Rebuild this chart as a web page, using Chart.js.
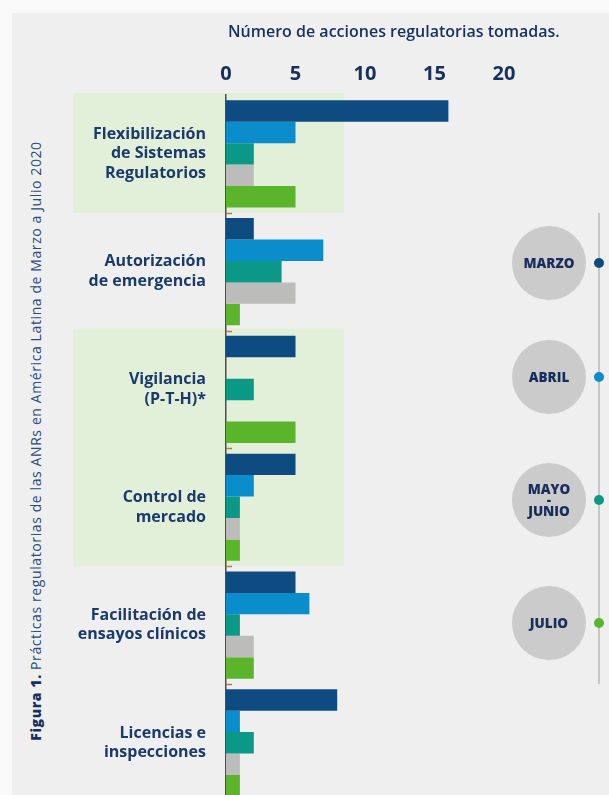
<!DOCTYPE html>
<html lang="es">
<head>
<meta charset="UTF-8" />
<title>Prácticas regulatorias</title>
<script src="https://cdn.jsdelivr.net/npm/chart.js"></script>
<style>
    html, body { margin: 0; padding: 0; }
    body {
        width: 609px;
        height: 795px;
        overflow: hidden;
        position: relative;
        background: #f9f9f9;
        font-family: "Open Sans", Arial, sans-serif;
    }
    .panel {
        position: absolute;
        left: 12px; top: 13px; right: 0; bottom: 0;
        background: #efefef;
    }
    .chart-box {
        position: absolute;
        left: 0; top: 0;
        width: 609px; height: 851px;
    }
    .caption {
        position: absolute;
        left: 35px; top: 441px;
        width: 660px;
        transform: translate(-50%, -50%) rotate(-90deg);
        text-align: center;
        white-space: nowrap;
        font-size: 14px;
        letter-spacing: 0.6px;
        color: #2c4a7c;
    }
    .caption b { color: #13305f; font-weight: 800; }
    .timeline {
        position: absolute;
        left: 598px; top: 213px;
        width: 2px; height: 471px;
        background: #c6c6c6;
    }
    .bubble {
        position: absolute;
        width: 74px; height: 74px;
        border-radius: 50%;
        background: #cbcbcb;
        display: flex;
        align-items: center;
        justify-content: center;
        text-align: center;
        font-size: 13.5px;
        font-weight: 800;
        line-height: 11px;
        color: #172d5c;
    }
    .dot {
        position: absolute;
        width: 10px; height: 10px;
        border-radius: 50%;
    }
</style>
</head>
<body>
    <div class="panel"></div>
    <div class="caption"><b>Figura 1.</b> Prácticas regulatorias de las ANRs en América Latina de Marzo a Julio 2020</div>
    <div class="chart-box"><canvas id="accionesChart"></canvas></div>
    <div class="timeline"></div>
    <div id="legend"></div>

<script>
    // categorías (eje Y)
    const categorias = [
        ['Flexibilización', 'de Sistemas', 'Regulatorios'],
        ['Autorización', 'de emergencia'],
        ['Vigilancia', '(P-T-H)*'],
        ['Control de', 'mercado'],
        ['Facilitación de', 'ensayos clínicos'],
        ['Licencias e', 'inspecciones']
    ];

    // series por periodo (la gris no aparece en la leyenda)
    const periodos = ['MARZO', 'ABRIL', 'MAYO - JUNIO', '', 'JULIO'];
    const marzo      = [16, 2, 5, 5, 5, 8];
    const abril      = [5, 7, 0, 2, 6, 1];
    const mayoJunio  = [2, 4, 2, 1, 1, 2];
    const gris       = [2, 5, 0, 1, 2, 1];
    const julio      = [5, 1, 5, 1, 2, 1];

    const xTicks = [0, 5, 10, 15, 20];
    const tituloX = 'Número de acciones regulatorias tomadas.';

    const colores = ['#0d4b80', '#0b8dcb', '#0c9886', '#bcbdbb', '#5bb52a'];
    const resaltados = [[0, 0], [2, 3]];   // bloques con fondo verde
    const legendY = [263, 377, 500, 623];

    const bandPlugin = {
        id: 'bands',
        beforeDraw(chart) {
            const { ctx, scales: { x, y } } = chart;
            const half = (y.getPixelForValue(1) - y.getPixelForValue(0)) / 2;
            ctx.save();
            ctx.fillStyle = '#e2efd9';
            resaltados.forEach(([a, b]) => {
                const top = y.getPixelForValue(a) - half - 2;
                const bottom = y.getPixelForValue(b) + half;
                ctx.fillRect(73, top, x.getPixelForValue(8.5) - 73, bottom - top);
            });
            ctx.restore();
        },
        afterDraw(chart) {
            const { ctx, scales: { x, y } } = chart;
            const half = (y.getPixelForValue(1) - y.getPixelForValue(0)) / 2;
            const x0 = x.getPixelForValue(0);
            ctx.save();
            ctx.strokeStyle = '#b27a48';
            ctx.lineWidth = 1.5;
            for (let i = 1; i <= categorias.length; i++) {
                const yy = Math.round(y.getPixelForValue(i) - half) + 0.5;
                ctx.beginPath();
                ctx.moveTo(x0, yy);
                ctx.lineTo(x0 + 6, yy);
                ctx.stroke();
            }
            // título del eje (sin recorte al ancho del área)
            ctx.fillStyle = '#16305e';
            ctx.font = '600 16px "Open Sans", Arial, sans-serif';
            ctx.textAlign = 'left';
            ctx.textBaseline = 'middle';
            ctx.fillText(tituloX, x0 + 2, 32);
            ctx.restore();
        }
    };

    const series = [marzo, abril, mayoJunio, gris, julio];

    new Chart(document.getElementById('accionesChart'), {
        type: 'bar',
        data: {
            labels: categorias,
            datasets: series.map((d, i) => ({
                label: periodos[i],
                data: d,
                backgroundColor: colores[i],
                borderWidth: 0,
                barPercentage: 1,
                categoryPercentage: 0.91
            }))
        },
        options: {
            indexAxis: 'y',
            responsive: true,
            maintainAspectRatio: false,
            animation: false,
            layout: { padding: { left: 0, right: 105, top: 0, bottom: 10 } },
            plugins: {
                legend: { display: false },
                tooltip: { enabled: false }
            },
            scales: {
                x: {
                    position: 'top',
                    min: 0,
                    max: 20,
                    afterBuildTicks: s => { s.ticks = xTicks.map(v => ({ value: v })); },
                    afterFit: s => { s.height = 95; },
                    grid: { display: false },
                    border: { display: false },
                    ticks: {
                        padding: 1,
                        color: '#16305e',
                        font: { family: '"Open Sans", Arial, sans-serif', size: 20, weight: '700' }
                    }
                },
                y: {
                    afterFit: s => { s.width = 226; },
                    grid: { display: true, drawOnChartArea: false, drawTicks: false, color: 'rgba(0,0,0,0)' },
                    border: { display: true, color: '#4d4d4d', width: 1.5 },
                    ticks: {
                        padding: 20,
                        color: '#1a3a6c',
                        font: { family: '"Open Sans", Arial, sans-serif', size: 16, weight: '700', lineHeight: 1.22 }
                    }
                }
            }
        },
        plugins: [bandPlugin]
    });

    // leyenda de la derecha (línea de tiempo)
    const legend = document.getElementById('legend');
    let k = 0;
    periodos.forEach((p, i) => {
        if (!p) return;
        const cy = legendY[k++];
        const b = document.createElement('div');
        b.className = 'bubble';
        b.style.left = (549 - 37) + 'px';
        b.style.top = (cy - 37) + 'px';
        b.innerHTML = p.split(' ').join('<br>');
        legend.appendChild(b);
        const d = document.createElement('div');
        d.className = 'dot';
        d.style.left = (599 - 5) + 'px';
        d.style.top = (cy - 5) + 'px';
        d.style.background = colores[i];
        legend.appendChild(d);
    });
</script>
</body>
</html>
